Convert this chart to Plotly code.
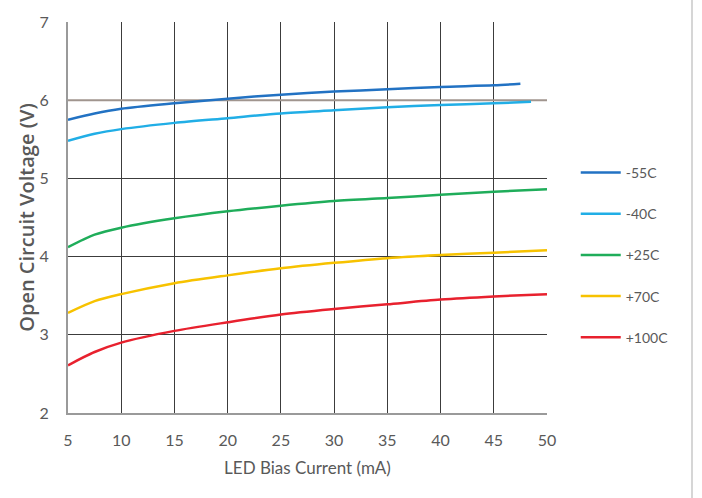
import plotly.graph_objects as go

x_m55 = [5, 7.5, 10, 15, 20, 25, 30, 35, 40, 45, 47.5]
v_m55 = [5.75, 5.83, 5.89, 5.96, 6.02, 6.07, 6.11, 6.14, 6.17, 6.19, 6.21]

x_m40 = [5, 7.5, 10, 15, 20, 25, 30, 35, 40, 45, 48.5]
v_m40 = [5.48, 5.57, 5.63, 5.71, 5.77, 5.83, 5.87, 5.91, 5.94, 5.96, 5.98]

x_p25 = [5, 7.5, 10, 15, 20, 25, 30, 35, 40, 45, 50]
v_p25 = [4.12, 4.28, 4.37, 4.49, 4.58, 4.65, 4.71, 4.75, 4.79, 4.83, 4.86]

x_p70 = [5, 7.5, 10, 15, 20, 25, 30, 35, 40, 45, 50]
v_p70 = [3.28, 3.43, 3.52, 3.66, 3.76, 3.85, 3.92, 3.98, 4.02, 4.05, 4.08]

x_p100 = [5, 7.5, 10, 15, 20, 25, 30, 35, 40, 45, 50]
v_p100 = [2.61, 2.78, 2.90, 3.05, 3.16, 3.26, 3.33, 3.39, 3.45, 3.49, 3.52]

names = ["-55C", "-40C", "+25C", "+70C", "+100C"]
colors = ["#2272c3", "#21aee6", "#1fad5a", "#f7c200", "#e8212e"]

x_ticks = [5, 10, 15, 20, 25, 30, 35, 40, 45, 50]
y_ticks = [2, 3, 4, 5, 6, 7]

series = [(x_m55, v_m55), (x_m40, v_m40), (x_p25, v_p25), (x_p70, v_p70), (x_p100, v_p100)]

fig = go.Figure()
for (xs, ys), name, color in zip(series, names, colors):
    fig.add_trace(go.Scatter(x=xs, y=ys, mode="lines", name=name, legendgroup=name,
                             line=dict(color=color, width=2.5, shape="spline", smoothing=0.8)))

font_family = "Lato, 'Open Sans', sans-serif"
fig.add_shape(type="line", xref="x", yref="y", x0=5, x1=50, y0=6, y1=6,
              line=dict(color="#a0958e", width=2), layer="between")
fig.add_shape(type="line", xref="paper", yref="paper", x0=1.3027, x1=1.3027, y0=-0.5, y1=1.1,
              line=dict(color="#d6d6d6", width=2))

fig.update_layout(
    width=702, height=498,
    margin=dict(l=68, r=155, t=16, b=85),
    paper_bgcolor="white", plot_bgcolor="white",
    font=dict(family=font_family, size=16, color="#595959"),
    showlegend=True,
    legend=dict(x=1.06, y=0.655, xanchor="left", yanchor="top",
                font=dict(size=14, color="#595959"), tracegroupgap=20, itemwidth=40,
                bgcolor="rgba(0,0,0,0)"),
    xaxis=dict(range=[5, 50], tickvals=x_ticks, showgrid=True, gridcolor="#3c3c3c",
               gridwidth=1, zeroline=False, showline=True, linecolor="#9a9a9a", linewidth=2,
               mirror=False, ticks="", tickfont=dict(size=16, color="#595959"),
               ticklabelstandoff=12,
               title=dict(text="LED Bias Current (mA)", font=dict(size=17, color="#595959"), standoff=14)),
    yaxis=dict(range=[2, 7], tickvals=y_ticks, showgrid=True, gridcolor="#3c3c3c",
               gridwidth=1, zeroline=False, showline=True, linecolor="#9a9a9a", linewidth=2,
               ticks="", tickfont=dict(size=16, color="#595959"), ticklabelstandoff=14,
               title=dict(text="Open Circuit Voltage (V)",
                          font=dict(family="'Open Sans', sans-serif", size=20, weight=600, color="#595959"),
                          standoff=0)),
)

fig.write_html("out.html")
